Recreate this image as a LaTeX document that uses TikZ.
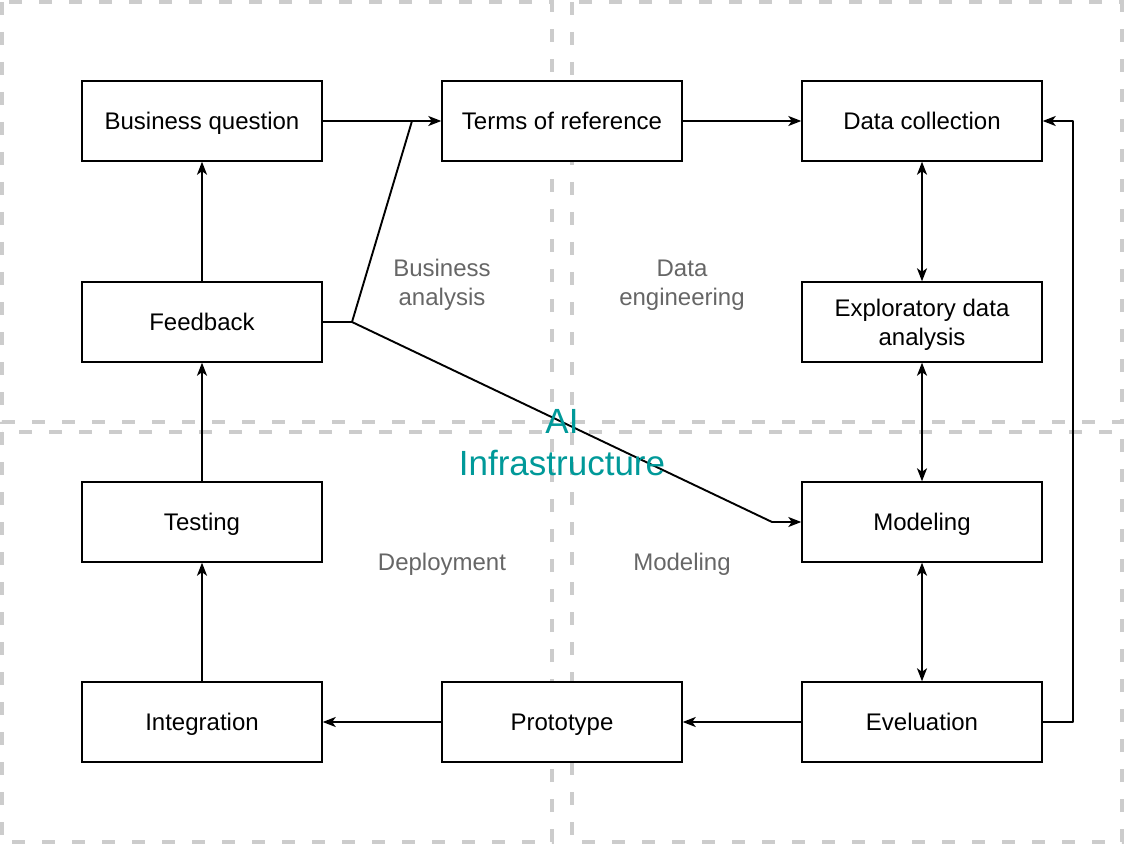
\documentclass[tikz,border=0pt]{standalone}
\usepackage{fontspec}
\setmainfont{Liberation Sans}
\usetikzlibrary{arrows.meta}
\definecolor{zonegray}{HTML}{CCCCCC}
\definecolor{labelgray}{HTML}{666666}
\definecolor{infrateal}{HTML}{009999}

\begin{document}
\begin{tikzpicture}[x=1pt,y=-1pt,
  stage/.style={draw, fill=white, line width=1.4pt, minimum width=240pt,
    minimum height=80pt, inner sep=0pt, align=center,
    font=\fontsize{24}{29}\selectfont},
  oneline/.style={text height=17.2pt, text depth=0pt},
  zone/.style={draw=zonegray, line width=4.5pt, dash pattern=on 13pt off 17pt},
  zonelabel/.style={text=labelgray, align=center, font=\fontsize{24}{29}\selectfont},
  tip/.tip={Stealth[length=13pt,width=10pt,inset=3.5pt]},
  wire/.style={line width=1.9pt, line join=round},
  link/.style={wire, -tip},
  twoway/.style={wire, tip-tip}
]
\useasboundingbox (0,0) rectangle (1125,845);

% quadrant frames
\draw[zone] (2,2) rectangle (552,422);
\draw[zone] (572,2) rectangle (1122,422);
\draw[zone] (2,432) rectangle (552,842);
\draw[zone] (572,432) rectangle (1122,842);

% quadrant titles
\node[zonelabel] (lblba) at (442,285) {Business\\analysis};
\node[zonelabel] (lblde) at (682,285) {Data\\engineering};
\node[zonelabel, oneline] (lbldp) at (442,562) {Deployment};
\node[zonelabel, oneline] (lblmd) at (682,562) {Modeling};

% stages
\node[stage, oneline] (bq) at (202,121) {Business question};
\node[stage, oneline] (tor) at (562,121) {Terms of reference};
\node[stage, oneline] (dc) at (922,121) {Data collection};
\node[stage, oneline] (fb) at (202,322) {Feedback};
\node[stage] (eda) at (922,322) {};
\node[align=center, font=\fontsize{24}{29}\selectfont] (edatext) at (922,325) {Exploratory data\\analysis};
\node[stage, oneline] (tst) at (202,522) {Testing};
\node[stage, oneline] (mdl) at (922,522) {Modeling};
\node[stage, oneline] (intg) at (202,722) {Integration};
\node[stage, oneline] (proto) at (562,722) {Prototype};
\node[stage, oneline] (ev) at (922,722) {Eveluation};

% bend points of the feedback branch
\coordinate (fbknee) at (352,322);
\coordinate (joint) at (412,121);
\coordinate (mdknee) at (772,522);

% connectors
\draw[link] (bq) -- (tor);
\draw[link] (tor) -- (dc);
\draw[twoway] (dc) -- (eda);
\draw[twoway] (eda) -- (mdl);
\draw[twoway] (mdl) -- (ev);
\draw[link] (ev) -- (proto);
\draw[link] (proto) -- (intg);
\draw[link] (intg) -- (tst);
\draw[link] (tst) -- (fb);
\draw[link] (fb) -- (bq);
\draw[link] (ev.east) -- ++(30,0) |- (dc.east);
\draw[wire] (fb.east) -- (fbknee) -- (joint);
\draw[link] (fbknee) -- (mdknee) -- (mdl.west);

% centre title
\node[text=infrateal, align=center, font=\fontsize{35}{42}\selectfont] (infra) at (562,443) {AI\\Infrastructure};
\end{tikzpicture}
\end{document}
